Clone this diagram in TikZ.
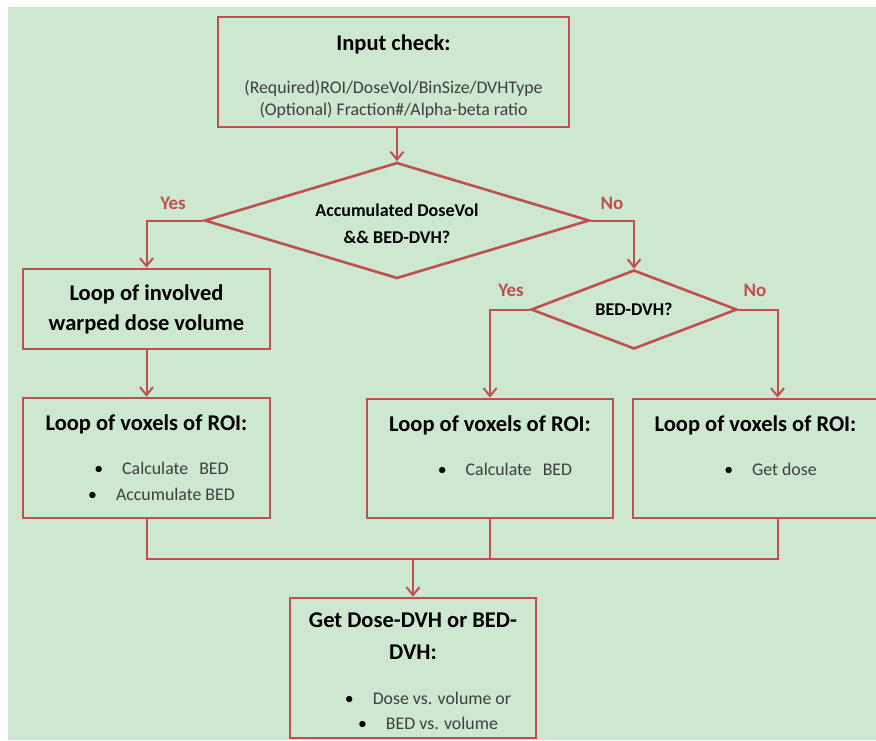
\documentclass[tikz,border=0pt]{standalone}
\usepackage{fontspec}
\setmainfont{Carlito}
\usepackage{xcolor}
\usetikzlibrary{positioning,arrows.meta,shapes.geometric}
\definecolor{bggreen}{RGB}{205,231,208}
\definecolor{linered}{RGB}{192,80,77}
\definecolor{txtgray}{RGB}{62,62,62}
\newcommand{\hd}{\fontsize{22.5}{30}\selectfont\bfseries\color{black}}
\newcommand{\bul}{\hspace*{30pt}{\color{black}\textbullet}\hspace{19pt}}

\begin{document}
\begin{tikzpicture}[x=1pt,y=-1pt,>={Straight Barb[length=8pt,width=13pt]},
  box/.style={draw=linered,line width=2.6pt,inner sep=0pt,align=center,minimum width=246pt,
    text=txtgray,font=\fontsize{17.8}{26}\selectfont},
  dec/.style={draw=linered,line width=2.6pt,diamond,inner sep=0pt,align=center,aspect=3,
    font=\fontsize{18}{26.5}\selectfont\bfseries},
  conn/.style={draw=linered,line width=2pt},
  yn/.style={text=linered,font=\fontsize{19}{20}\selectfont\bfseries}]
\useasboundingbox (0,0) rectangle (876,740);
\fill[white] (0,0) rectangle (876,740);
\fill[bggreen] (8,7) rectangle (876,740);

% boxes
\node[box,minimum width=351pt,minimum height=110pt,font=\fontsize{17.8}{22}\selectfont] (input) at (393.5,72)
  {\rule{0pt}{25pt}\hd Input check:\\[21pt](Required)ROI/DoseVol/BinSize/DVHType\\(Optional) Fraction\#/Alpha-beta ratio};
\node[dec,minimum width=385pt,minimum height=116pt] (acc) at (397,220.5)
  {\rule{0pt}{19pt}Accumulated DoseVol\\\&\& BED-DVH?};
\node[box,minimum width=247pt,minimum height=80pt,font=\hd,text=black] (warp) at (146.5,309) {Loop of involved\\warped dose volume};
\node[dec,minimum width=206pt,minimum height=79pt,aspect=2.6] (bed) at (634,309.5) {BED-DVH?};
\node[box,minimum width=247pt,minimum height=120pt] (voxA) at (146.5,458)
  {\hd Loop of voxels of ROI:\\[18pt]\bul Calculate\hspace{11pt}BED\\\bul Accumulate BED};
\node[box,minimum height=119pt] (voxB) at (490,458.5)
  {\hd Loop of voxels of ROI:\\[18pt]\bul Calculate\hspace{11pt}BED\\\mbox{}};
\node[box,minimum width=245pt,minimum height=119pt] (voxC) at (755.5,458.5)
  {\hd Loop of voxels of ROI:\\[18pt]\bul Get dose\\\mbox{}};
\node[box,minimum height=140pt,font=\fontsize{17.8}{25}\selectfont] (result) at (413,668)
  {\rule{0pt}{22pt}\hd Get Dose-DVH or BED-\\[7pt]\hd DVH:\\[20pt]\bul Dose vs. volume or\\\bul BED vs. volume};
\coordinate (merge) at (413,559);

% connectors
\draw[conn,->] (acc.north |- input.south) -- (acc.north);
\draw[conn,->] (acc.west) -| (warp.north);
\draw[conn,->] (acc.east) -| (bed.north);
\draw[conn,->] (warp.south) -- (voxA.north);
\draw[conn,->] (bed.west) -| (voxB.north);
\draw[conn,->] (bed.east) -| ([xshift=22pt]voxC.north);
\draw[conn] (voxA.south) |- (merge) -| ([xshift=22pt]voxC.south);
\draw[conn] (voxB.south) -- (voxB.south |- merge);
\draw[conn,->] (merge) -- (result.north);

% branch labels
\node[yn] (yes1) at (173,203) {Yes};
\node[yn] (no1) at (612,203) {No};
\node[yn] (yes2) at (511,290) {Yes};
\node[yn] (no2) at (755,290) {No};
\end{tikzpicture}
\end{document}
